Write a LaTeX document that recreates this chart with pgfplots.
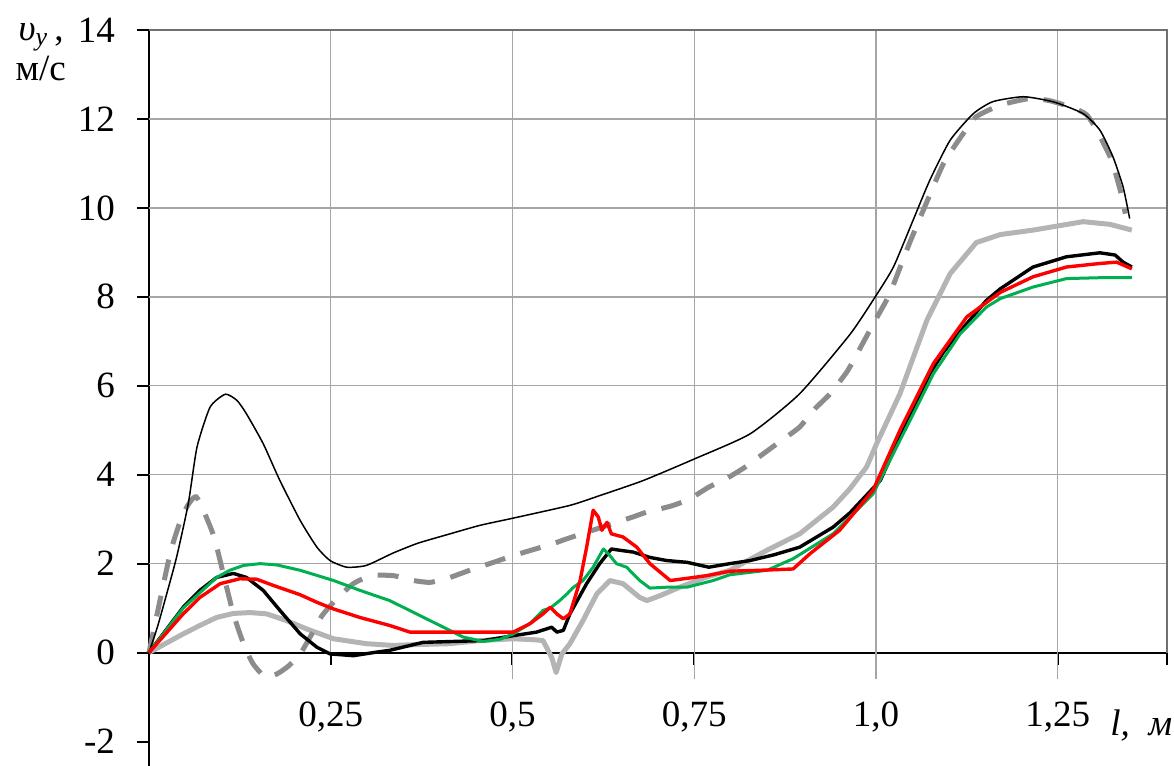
\documentclass[border=0pt]{standalone}
\usepackage{pgfplots}
\pgfplotsset{compat=1.18}
\usepackage{fontspec}
\setmainfont{Liberation Serif}
\definecolor{gridc}{HTML}{A6A6A6}
\definecolor{framec}{HTML}{707070}
\definecolor{dashc}{HTML}{8C8C8C}
\definecolor{lgray}{HTML}{B4B4B4}
\definecolor{grn}{HTML}{00B050}
\begin{document}
\begin{tikzpicture}
\begin{axis}[
  scale only axis, width=508.5pt, height=367.5pt,
  xmin=0, xmax=1.4, ymin=-2.54, ymax=14,
  axis x line=middle, axis y line=left,
  axis line style={-, black, line width=1pt},
  xtick={0.25,0.5,0.75,1.0,1.25,1.4},
  xticklabels={{0,25},{0,5},{0,75},{1,0},{1,25},{}},
  ytick={-2,0,2,4,6,8,10,12,14},
  yticklabels={-2,0,2,4,6,8,10,12,14},
  tick style={black, line width=1pt},
  major tick length=6pt,
  xtick align=outside, ytick align=outside,
  tick label style={font=\fontsize{18.5}{20}\selectfont},
  xticklabel style={yshift=-15pt},
  yticklabel style={xshift=-7.5pt},
  /pgf/number format/assume math mode=true,
  clip=false,
]
% grid
\pgfplotsinvokeforeach{2,4,6,8,10,12}{\draw[gridc, line width=0.7pt] (axis cs:0,#1) -- (axis cs:1.4,#1);}
\draw[gridc, line width=0.7pt] (axis cs:0.25,0) -- (axis cs:0.25,14);
\pgfplotsinvokeforeach{0.5,0.75,1.0,1.25}{\draw[gridc, line width=0.7pt] (axis cs:#1,-0.6) -- (axis cs:#1,14);}
\draw[framec, line width=1pt] (axis cs:0,14) -- (axis cs:1.4,14) -- (axis cs:1.4,0);

% light gray
\addplot[lgray, line width=2.5pt, line join=round] coordinates {
(0,0) (0.047,0.42) (0.070,0.61) (0.093,0.79) (0.116,0.88) (0.139,0.90) (0.162,0.87)
(0.189,0.72) (0.217,0.53) (0.254,0.31) (0.299,0.20) (0.336,0.16) (0.368,0.18) (0.414,0.20)
(0.455,0.27) (0.501,0.31) (0.529,0.29) (0.542,0.27) (0.554,-0.11) (0.560,-0.45) (0.568,-0.03)
(0.579,0.20) (0.597,0.72) (0.616,1.32) (0.634,1.62) (0.652,1.55) (0.675,1.24) (0.685,1.17)
(0.703,1.28) (0.730,1.47) (0.767,1.70) (0.799,1.85) (0.850,2.30) (0.895,2.67) (0.941,3.27)
(0.964,3.68) (0.987,4.17) (1.001,4.70) (1.033,5.82) (1.070,7.47) (1.102,8.52) (1.138,9.22)
(1.171,9.40) (1.216,9.50) (1.285,9.69) (1.322,9.63) (1.352,9.50)
};
% gray dashed
\addplot[dashc, line width=2.5pt, dash pattern=on 10.5pt off 8pt, smooth, tension=0.35] coordinates {
(0,0) (0.029,2.22) (0.047,3.12) (0.065,3.5) (0.088,2.67) (0.100,1.92) (0.116,0.87)
(0.130,0.20) (0.143,-0.25) (0.160,-0.55) (0.176,-0.48) (0.192,-0.30) (0.208,-0.03)
(0.224,0.42) (0.238,0.83) (0.256,1.17) (0.281,1.55) (0.306,1.73) (0.336,1.73) (0.364,1.62)
(0.387,1.58) (0.414,1.69) (0.446,1.88) (0.474,2.03) (0.501,2.18) (0.556,2.45) (0.575,2.56)
(0.662,3.03) (0.685,3.16) (0.717,3.29) (0.742,3.44) (0.770,3.72) (0.795,3.92) (0.820,4.17)
(0.845,4.47) (0.870,4.77) (0.895,5.07) (0.914,5.45) (0.937,5.82) (0.955,6.20) (0.964,6.42)
(0.999,7.47) (1.019,8.07) (1.044,9.12) (1.067,10.02) (1.093,11.0) (1.120,11.67) (1.138,12.05)
(1.171,12.31) (1.212,12.46) (1.244,12.39) (1.290,12.09) (1.322,11.15) (1.336,10.40) (1.343,9.87)
};
% thin black
\addplot[black, line width=0.75pt, smooth, tension=0.35] coordinates {
(0,0) (0.012,0.6) (0.024,1.3) (0.038,2.15) (0.054,3.35) (0.066,4.62) (0.084,5.52) (0.105,5.81)
(0.121,5.67) (0.134,5.37) (0.157,4.70) (0.180,3.87) (0.208,2.97) (0.231,2.37) (0.249,2.07)
(0.272,1.92) (0.299,1.96) (0.336,2.24) (0.370,2.46) (0.414,2.67) (0.455,2.86) (0.500,3.02)
(0.579,3.31) (0.620,3.53) (0.680,3.87) (0.751,4.36) (0.827,4.92) (0.895,5.82) (0.964,7.15)
(0.999,8.0) (1.024,8.67) (1.051,9.72) (1.074,10.62) (1.102,11.52) (1.134,12.12) (1.161,12.39)
(1.203,12.50) (1.245,12.38) (1.285,12.12) (1.308,11.75) (1.326,11.15) (1.340,10.47) (1.349,9.76)
};
% thick black
\addplot[black, line width=1.7pt, line join=round] coordinates {
(0,0) (0.047,1.02) (0.070,1.40) (0.093,1.69) (0.116,1.78) (0.134,1.69) (0.157,1.40)
(0.180,0.95) (0.208,0.42) (0.231,0.12) (0.249,-0.03) (0.281,-0.07) (0.313,0.01) (0.331,0.05)
(0.377,0.23) (0.460,0.27) (0.501,0.38) (0.533,0.46) (0.554,0.57) (0.561,0.46) (0.570,0.50)
(0.579,0.87) (0.602,1.55) (0.620,2.0) (0.636,2.33) (0.648,2.30) (0.666,2.26) (0.689,2.14)
(0.712,2.07) (0.740,2.03) (0.770,1.92) (0.799,2.0) (0.827,2.07) (0.860,2.2) (0.895,2.37)
(0.941,2.82) (0.964,3.14) (1.006,3.87) (1.033,4.85) (1.056,5.60) (1.074,6.27) (1.093,6.76)
(1.125,7.40) (1.152,7.92) (1.171,8.18) (1.216,8.67) (1.262,8.90) (1.308,8.99) (1.329,8.94)
(1.340,8.78) (1.352,8.67)
};
% green
\addplot[grn, line width=1.5pt, line join=round] coordinates {
(0,0) (0.047,1.0) (0.093,1.69) (0.111,1.85) (0.130,1.96) (0.153,2.0) (0.176,1.97)
(0.208,1.85) (0.254,1.62) (0.290,1.40) (0.331,1.17) (0.368,0.87) (0.405,0.57) (0.432,0.35)
(0.460,0.25) (0.483,0.30) (0.501,0.42) (0.524,0.65) (0.542,0.95) (0.552,1.0) (0.565,1.17)
(0.575,1.32) (0.584,1.47) (0.597,1.62) (0.611,1.92) (0.625,2.33) (0.632,2.22) (0.643,2.0)
(0.657,1.92) (0.675,1.62) (0.689,1.45) (0.712,1.47) (0.740,1.47) (0.776,1.62) (0.799,1.75)
(0.850,1.85) (0.886,2.11) (0.941,2.67) (0.996,3.57) (1.033,4.77) (1.079,6.27) (1.116,7.17)
(1.152,7.77) (1.171,7.96) (1.216,8.22) (1.262,8.41) (1.308,8.43) (1.352,8.43)
};
% red
\addplot[red, line width=1.7pt, line join=round] coordinates {
(0,0) (0.047,0.87) (0.070,1.24) (0.098,1.55) (0.125,1.66) (0.148,1.65) (0.171,1.51)
(0.208,1.30) (0.231,1.13) (0.254,0.98) (0.290,0.79) (0.331,0.61) (0.359,0.46) (0.414,0.46)
(0.483,0.46) (0.501,0.46) (0.524,0.65) (0.542,0.87) (0.552,1.02) (0.561,0.87) (0.570,0.76)
(0.579,0.87) (0.593,1.62) (0.602,2.37) (0.611,3.20) (0.618,3.05) (0.623,2.75) (0.630,2.93)
(0.636,2.67) (0.652,2.60) (0.671,2.37) (0.689,2.0) (0.717,1.62) (0.745,1.68) (0.767,1.73)
(0.799,1.83) (0.840,1.85) (0.886,1.88) (0.909,2.22) (0.950,2.75) (0.996,3.65) (1.033,5.0)
(1.079,6.5) (1.125,7.55) (1.171,8.10) (1.216,8.45) (1.262,8.67) (1.308,8.75) (1.331,8.78)
(1.352,8.63)
};
\node[anchor=base west, inner sep=0pt, font=\fontsize{18.5}{20}\selectfont] at (axis cs:-0.180,13.77) {\textit{υ}\textsubscript{\textit{y}}\,,};
\node[anchor=base west, inner sep=0pt, font=\fontsize{18.5}{20}\selectfont] at (axis cs:-0.184,12.87) {м/с};
\node[anchor=base west, inner sep=0pt, font=\fontsize{18.5}{20}\selectfont] at (axis cs:1.322,-1.87) {\textit{l,\ \ м}};
\coordinate (bl) at (axis cs:-0.205,-2.54);
\coordinate (tr) at (axis cs:1.410,14.675);
\end{axis}
\pgfresetboundingbox
\path (bl) rectangle (tr);
\end{tikzpicture}
\end{document}
